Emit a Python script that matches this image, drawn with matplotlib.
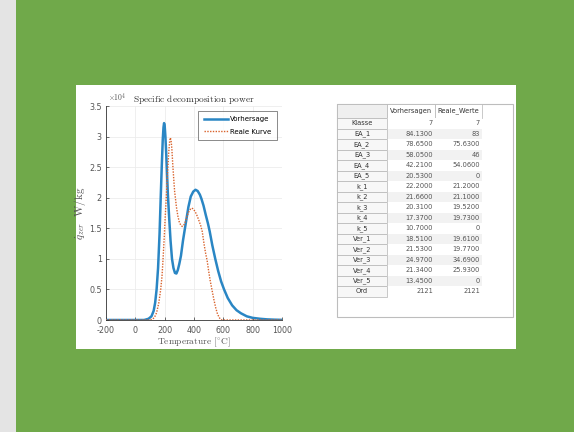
import matplotlib
matplotlib.use("Agg")
import matplotlib.pyplot as plt
from matplotlib.patches import Rectangle

plt.rcParams["axes.unicode_minus"] = False
plt.rcParams["mathtext.fontset"] = "cm"

# ---------------- data ----------------
blue_temp = [-200, 0, 60, 90, 110, 125, 135, 145, 155, 165, 173, 180, 187, 192, 196, 200, 205,
             210, 216, 222, 230, 240, 250, 260, 270, 280, 290, 300, 311, 325, 345, 362, 378, 395,
             410, 425, 440, 451, 465, 480, 495, 507, 525, 545, 565, 585, 605, 630, 660, 690, 720,
             760, 800, 850, 900, 950, 1000]
blue_q = [0, 0, 0, 0.02, 0.06, 0.15, 0.28, 0.5, 0.85, 1.4, 2.0, 2.5, 2.95, 3.15, 3.22, 3.18, 3.0,
          2.75, 2.4, 2.05, 1.7, 1.3, 1.0, 0.85, 0.77, 0.76, 0.82, 0.92, 1.05, 1.3, 1.6, 1.85, 2.02,
          2.1, 2.13, 2.11, 2.05, 1.98, 1.87, 1.72, 1.58, 1.45, 1.22, 1.0, 0.8, 0.63, 0.5, 0.36, 0.24,
          0.16, 0.11, 0.06, 0.035, 0.02, 0.01, 0.005, 0.002]

red_temp = [-200, 0, 100, 115, 130, 145, 160, 173, 182, 189, 197, 204, 211, 217, 222, 228, 234,
            238, 243, 249, 255, 262, 268, 273, 280, 290, 300, 310, 320, 330, 340, 350, 362, 375,
            385, 392, 400, 415, 430, 445, 456, 470, 480, 489, 500, 510, 522, 535, 548, 560, 572,
            582, 592, 1000]
red_q = [0, 0, 0, 0.01, 0.04, 0.12, 0.28, 0.5, 0.72, 1.0, 1.35, 1.7, 2.0, 2.3, 2.5, 2.75, 2.92,
         2.98, 2.95, 2.8, 2.55, 2.3, 2.1, 2.0, 1.85, 1.7, 1.6, 1.55, 1.53, 1.55, 1.6, 1.68, 1.76,
         1.81, 1.83, 1.82, 1.8, 1.74, 1.65, 1.55, 1.45, 1.22, 1.08, 0.98, 0.8, 0.65, 0.5, 0.34,
         0.2, 0.1, 0.04, 0.01, 0, 0]

x_ticks = [-200, 0, 200, 400, 600, 800, 1000]
y_ticks = [0, 0.5, 1, 1.5, 2, 2.5, 3, 3.5]
y_ticklabels = ["0", "0.5", "1", "1.5", "2", "2.5", "3", "3.5"]

series_names = ["Vorhersage", "Reale Kurve"]

col_names = ["Vorhersagen", "Reale_Werte"]
row_names = ["Klasse", "EA_1", "EA_2", "EA_3", "EA_4", "EA_5", "k_1", "k_2", "k_3", "k_4",
             "k_5", "Ver_1", "Ver_2", "Ver_3", "Ver_4", "Ver_5", "Ord"]
vorhersagen = ["7", "84.1300", "78.6500", "58.0500", "42.2100", "20.5300", "22.2000",
               "21.6600", "20.3100", "17.3700", "10.7000", "18.5100", "21.5300", "24.9700",
               "21.3400", "13.4500", "2121"]
reale_werte = ["7", "83", "75.6300", "46", "54.0600", "0", "21.2000", "21.1000", "19.5200",
               "19.7300", "0", "19.6100", "19.7700", "34.6900", "25.9300", "0", "2121"]

# ---------------- figure / background ----------------
W, H = 574, 432
fig = plt.figure(figsize=(W / 100, H / 100), dpi=100)
fig.patch.set_facecolor("#70a94a")

bg = fig.add_axes([0, 0, 1, 1])
bg.set_xlim(0, W)
bg.set_ylim(H, 0)
bg.axis("off")
bg.add_patch(Rectangle((0, 0), 16, H, facecolor="#e4e4e4", edgecolor="none"))
bg.add_patch(Rectangle((76, 85), 440, 264, facecolor="white", edgecolor="none"))

# ---------------- chart ----------------
ax = fig.add_axes([106 / W, 1 - 320 / H, 176 / W, 214 / H])
ax.set_facecolor("white")
blue_c = "#2a86c4"
red_c = "#d9622b"
ax.plot(blue_temp, blue_q, color=blue_c, lw=1.8, label=series_names[0], zorder=3)
ax.plot(red_temp, red_q, color=red_c, lw=1.0, ls=(0, (1, 1.0)), label=series_names[1], zorder=3)
ax.set_xlim(-200, 1000)
ax.set_ylim(0, 3.5)
ax.set_xticks(x_ticks)
ax.set_yticks(y_ticks)
ax.set_yticklabels(y_ticklabels)
ax.grid(True, color="#ececec", lw=0.6)
ax.set_axisbelow(True)
for s in ["top", "right"]:
    ax.spines[s].set_visible(False)
for s in ["left", "bottom"]:
    ax.spines[s].set_color("#333333")
    ax.spines[s].set_linewidth(0.6)
ax.tick_params(direction="in", length=2, width=0.5, labelsize=5.8, colors="#333333",
               labelcolor="#555555")
ax.tick_params(axis="x", pad=4)
ax.tick_params(axis="y", pad=3)

ax.text(0.01, 1.01, r"$\times10^{4}$", transform=ax.transAxes, fontsize=5.5, color="#555555",
        ha="left", va="bottom")
ax.set_title(r"$\mathrm{Specific\ decomposition\ power}$", fontsize=6.8,
             color="#333333", pad=3, x=0.5)
ax.set_xlabel(r"$\mathrm{Temperature\ [^{\circ}C]}$", fontsize=6.8,
              color="#555555", labelpad=1)
ax.set_ylabel(r"$\dot{q}_{zer}\ \ \mathrm{W/kg}$", fontsize=8,
              color="#555555", labelpad=1)
leg = ax.legend(loc="upper right", fontsize=5, frameon=True, fancybox=False,
                edgecolor="#333333", handlelength=3.4, borderpad=0.8, labelspacing=0.9,
                handletextpad=0.4, borderaxespad=0.7)
leg.get_frame().set_linewidth(0.5)

# ---------------- table ----------------
tx0, ty0 = 337, 104      # outer box top-left
tx1, ty1 = 513, 317      # outer box bottom-right
c0, c1, c2, c3 = 337, 387, 435, 482
hdr_h = 14
row_h = 10.5
border = "#b4b4b4"
tfs = 4.8
bg.add_patch(Rectangle((tx0, ty0), tx1 - tx0, ty1 - ty0, facecolor="white",
                       edgecolor="#bdbdbd", lw=0.8, zorder=1))
# header row
bg.add_patch(Rectangle((c0, ty0), c1 - c0, hdr_h, facecolor="#efefef", edgecolor=border,
                       lw=0.5, zorder=2))
for i, name in enumerate(col_names):
    xa = [c1, c2][i]
    xb = [c2, c3][i]
    bg.add_patch(Rectangle((xa, ty0), xb - xa, hdr_h, facecolor="white", edgecolor=border,
                           lw=0.5, zorder=2))
    bg.text((xa + xb) / 2, ty0 + hdr_h / 2, name, fontsize=tfs, color="#333333",
            ha="center", va="center", zorder=3)
# body rows
for r, name in enumerate(row_names):
    y = ty0 + hdr_h + r * row_h
    fc = "#f2f2f2" if r % 2 == 1 else "white"
    bg.add_patch(Rectangle((c1, y), c3 - c1, row_h, facecolor=fc, edgecolor="none", zorder=2))
    bg.add_patch(Rectangle((c0, y), c1 - c0, row_h, facecolor="#f7f7f7", edgecolor=border,
                           lw=0.5, zorder=2))
    bg.text((c0 + c1) / 2, y + row_h / 2, name, fontsize=tfs, color="#333333",
            ha="center", va="center", zorder=3)
    bg.text(c2 - 2, y + row_h / 2, vorhersagen[r], fontsize=tfs, color="#555555",
            ha="right", va="center", zorder=3)
    bg.text(c3 - 2, y + row_h / 2, reale_werte[r], fontsize=tfs, color="#555555",
            ha="right", va="center", zorder=3)

fig.savefig("out.png", dpi=100, facecolor=fig.get_facecolor())
